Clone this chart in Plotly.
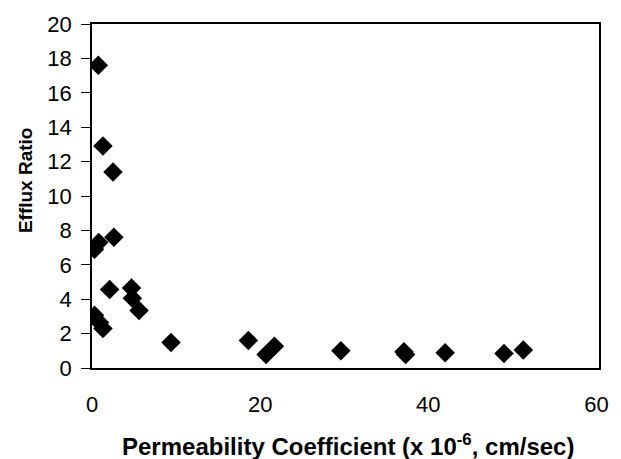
import plotly.graph_objects as go

perm = [0.75, 1.3, 2.5, 0.3, 0.8, 2.6, 2.1, 4.7, 4.8, 5.6, 0.3, 0.9, 1.3,
        9.4, 18.6, 20.7, 21.7, 29.6, 37.1, 37.3, 42.0, 49.0, 51.3]
efflux = [17.6, 12.9, 11.4, 6.9, 7.3, 7.6, 4.56, 4.65, 4.05, 3.35, 3.06, 2.65, 2.3,
          1.48, 1.6, 0.78, 1.27, 1.0, 0.95, 0.78, 0.89, 0.85, 1.04]

x_ticks = [0, 20, 40, 60]
y_ticks = [0, 2, 4, 6, 8, 10, 12, 14, 16, 18, 20]

fig = go.Figure()
fig.add_trace(go.Scatter(
    x=perm, y=efflux, mode="markers",
    marker=dict(symbol="diamond", size=15, color="black",
                line=dict(width=0)),
    showlegend=False,
))

font_family = "Liberation Sans, Arial, sans-serif"
fig.update_layout(
    width=621, height=459,
    margin=dict(l=92, r=18, t=24, b=91),
    paper_bgcolor="white", plot_bgcolor="white",
    font=dict(family=font_family, color="black", size=22),
    xaxis=dict(
        range=[0, 60.3], tickvals=x_ticks, ticks="", showgrid=False,
        zeroline=False, showline=True, linecolor="black", linewidth=1.5,
        mirror=True, tickfont=dict(size=22), ticklabelstandoff=16,
    ),
    yaxis=dict(
        range=[0, 20], tickvals=y_ticks, ticks="outside", ticklen=9,
        tickcolor="black", showgrid=False, zeroline=False, showline=True,
        linecolor="black", linewidth=1.5, mirror=True,
        tickfont=dict(size=22), ticklabelstandoff=5,
    ),
    annotations=[
        dict(text="<b>Permeability Coefficient (x 10<sup>-6</sup>, cm/sec)</b>",
             xref="paper", yref="paper", x=0.504, y=-0.225,
             xanchor="center", yanchor="middle", showarrow=False,
             font=dict(size=24)),
        dict(text="<b>Efflux Ratio</b>", textangle=-90,
             xref="paper", yref="paper", x=-0.131, y=0.545,
             xanchor="center", yanchor="middle", showarrow=False,
             font=dict(size=19)),
    ],
)

fig.write_html("out.html")
